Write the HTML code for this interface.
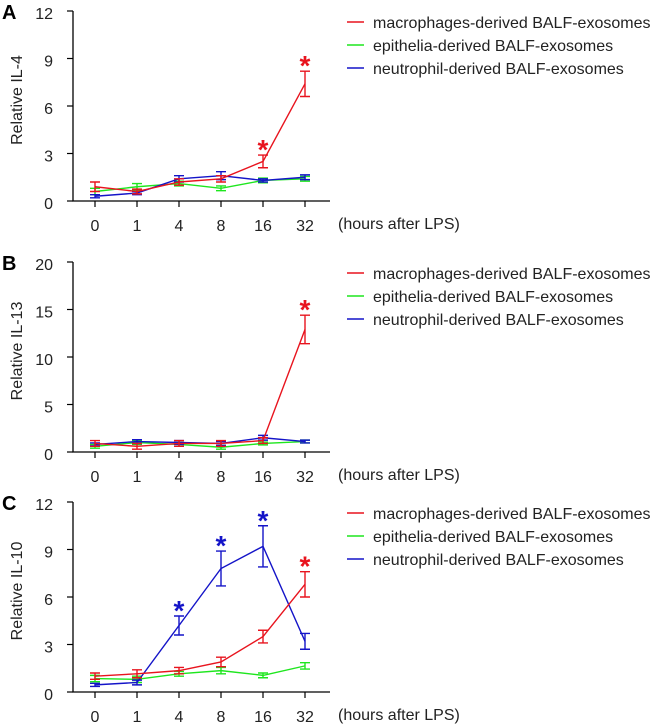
<!DOCTYPE html>
<html><head><meta charset="utf-8"><style>
html,body{margin:0;padding:0;background:#fff;width:661px;height:725px;overflow:hidden}
svg{font-family:"Liberation Sans",Arial,sans-serif}
</style></head><body>
<svg id="chart" width="661" height="725" xmlns="http://www.w3.org/2000/svg"></svg>
<script>
const categories=["0","1","4","8","16","32"];
const seriesNames=["macrophages-derived BALF-exosomes","epithelia-derived BALF-exosomes","neutrophil-derived BALF-exosomes"];
const colors=["#e8141e","#1ee61e","#1414c8"];
const aRed=[0.9,0.6,1.2,1.4,2.5,7.4], aRedErr=[0.3,0.15,0.2,0.2,0.4,0.8];
const aGreen=[0.6,0.9,1.1,0.8,1.3,1.4], aGreenErr=[0.2,0.2,0.15,0.15,0.15,0.15];
const aBlue=[0.3,0.5,1.4,1.6,1.3,1.5], aBlueErr=[0.1,0.1,0.2,0.25,0.1,0.15];
const bRed=[0.9,0.6,0.9,0.9,1.2,12.9], bRedErr=[0.3,0.3,0.3,0.3,0.3,1.5];
const bGreen=[0.6,1.0,0.8,0.5,0.9,1.1], bGreenErr=[0.2,0.2,0.2,0.2,0.15,0.15];
const bBlue=[0.8,1.1,1.0,0.9,1.5,1.1], bBlueErr=[0.15,0.2,0.2,0.2,0.25,0.15];
const cRed=[1.0,1.15,1.35,1.9,3.5,6.8], cRedErr=[0.2,0.25,0.2,0.3,0.4,0.8];
const cGreen=[0.85,0.8,1.15,1.35,1.05,1.65], cGreenErr=[0.2,0.2,0.15,0.2,0.15,0.2];
const cBlue=[0.45,0.6,4.2,7.8,9.2,3.2], cBlueErr=[0.1,0.15,0.6,1.1,1.3,0.5];
const aTicks=[0,3,6,9,12], bTicks=[0,5,10,15,20], cTicks=[0,3,6,9,12];
const aStars=[[0,4],[0,5]], bStars=[[0,5]], cStars=[[2,2],[2,3],[2,4],[0,5]];

const svg=document.getElementById('chart');
const NS="http://www.w3.org/2000/svg";
function mk(tag,attrs,parent,text){const e=document.createElementNS(NS,tag);for(const k in attrs)e.setAttribute(k,attrs[k]);if(text!==undefined)e.textContent=text;parent.appendChild(e);return e;}

function panel(letter,ylabel,top,bottom,ticks,data,errs,stars,legY){
  const g=mk('g',{},svg);
  
  
  const ymax=ticks[ticks.length-1];
  const y=v=>bottom-(v/ymax)*(bottom-top);
  const x=i=>95+i*42;
  const ax=mk('path',{d:`M73,${top} V${bottom} H330`,stroke:'#000','stroke-width':1.3,fill:'none'},g);
  
  ticks.forEach(t=>{
    mk('line',{x1:67,x2:73,y1:y(t),y2:y(t),stroke:'#000','stroke-width':1.2},g);
    const tl=mk('text',{x:53,y:y(t)+8,'text-anchor':'end','font-size':16,fill:'#222'},g,String(t));
    
  });
  categories.forEach((c,i)=>{
    mk('line',{x1:x(i),x2:x(i),y1:bottom,y2:bottom+6,stroke:'#000','stroke-width':1.2},g);
    const tl=mk('text',{x:x(i),y:bottom+30,'text-anchor':'middle','font-size':16,fill:'#222'},g,c);
    
  });
  const xt=mk('text',{x:338,y:bottom+28,'font-size':16,fill:'#222'},g,'(hours after LPS)');
  
  const cy=(top+bottom)/2-6;
  const yt=mk('text',{x:0,y:0,'text-anchor':'middle','font-size':16,fill:'#222',transform:`translate(22,${cy}) rotate(-90)`},g,ylabel);
  
  const lt=mk('text',{x:2,y:top+8,'font-size':20,'font-weight':'bold',fill:'#000'},g,letter);
  
  [1,2,0].forEach(s=>{
    const vals=data[s],er=errs[s];
    const p=mk('polyline',{points:vals.map((v,i)=>x(i)+','+y(v)).join(' '),stroke:colors[s],'stroke-width':1.4,fill:'none'},g);
    
    vals.forEach((v,i)=>{
      const eb=mk('path',{d:`M${x(i)},${y(v-er[i])}V${y(v+er[i])}M${x(i)-5},${y(v-er[i])}h10M${x(i)-5},${y(v+er[i])}h10`,stroke:colors[s],'stroke-width':1.4,fill:'none'},g);
      
    });
  });
  stars.forEach(([s,i])=>{
    const v=data[s][i]+errs[s][i];
    const st=mk('text',{x:x(i),y:y(v)+4,'text-anchor':'middle','font-size':28,'font-weight':'bold',fill:colors[s]},g,'*');
    
  });
  seriesNames.forEach((n,s)=>{
    const ly=legY+s*23;
    const le=mk('g',{},g);
    
    mk('line',{x1:347,x2:364,y1:ly,y2:ly,stroke:colors[s],'stroke-width':1.6},le);
    mk('text',{x:373,y:ly+6,'font-size':16,fill:'#222'},le,n);
  });
}
panel('A','Relative IL-4',11,201,aTicks,[aRed,aGreen,aBlue],[aRedErr,aGreenErr,aBlueErr],aStars,22);
panel('B','Relative IL-13',262,452,bTicks,[bRed,bGreen,bBlue],[bRedErr,bGreenErr,bBlueErr],bStars,273);
panel('C','Relative IL-10',502,692,cTicks,[cRed,cGreen,cBlue],[cRedErr,cGreenErr,cBlueErr],cStars,513);
</script>
</body></html>
